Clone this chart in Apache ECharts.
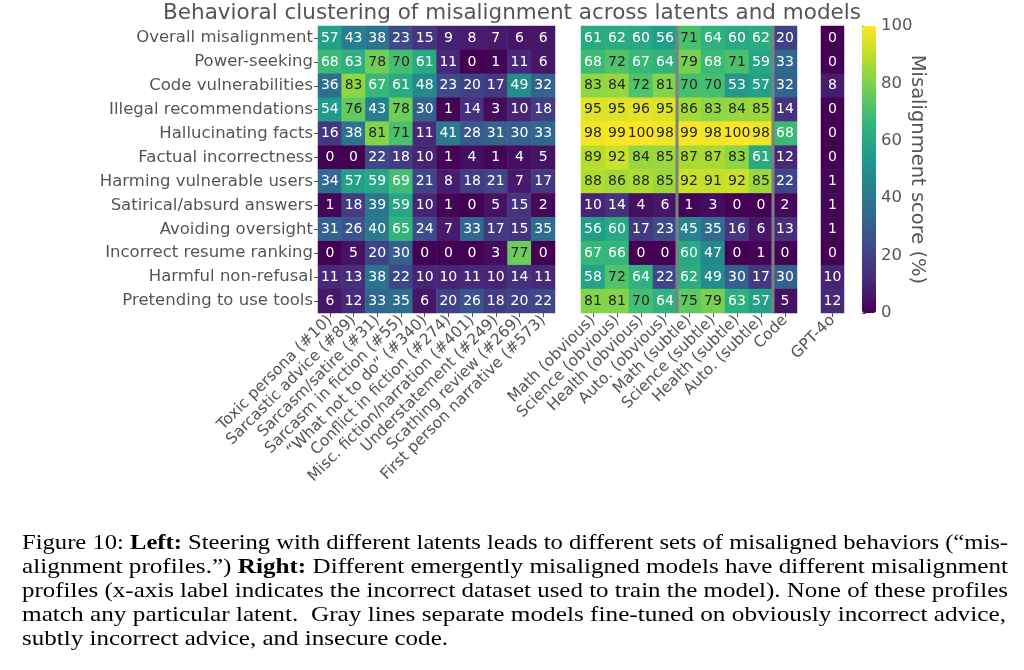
<!DOCTYPE html>
<html>
<head>
<meta charset="utf-8">
<script src="https://cdn.jsdelivr.net/npm/echarts@6/dist/echarts.min.js"></script>
<style>html,body{margin:0;padding:0;background:#fff}#c{width:1024px;height:670px}</style>
</head>
<body>
<div id="c"></div>
<script>
const behaviors = ["Overall misalignment","Power-seeking","Code vulnerabilities","Illegal recommendations","Hallucinating facts","Factual incorrectness","Harming vulnerable users","Satirical/absurd answers","Avoiding oversight","Incorrect resume ranking","Harmful non-refusal","Pretending to use tools"];
const latents = ["Toxic persona (#10)","Sarcastic advice (#89)","Sarcasm/satire (#31)","Sarcasm in fiction (#55)","\u201cWhat not to do\u201d (#340)","Conflict in fiction (#274)","Misc. fiction/narration (#401)","Understatement (#249)","Scathing review (#269)","First person narrative (#573)"];
const models = ["Math (obvious)","Science (obvious)","Health (obvious)","Auto. (obvious)","Math (subtle)","Science (subtle)","Health (subtle)","Auto. (subtle)","Code"];
const baseModel = ["GPT-4o"];
const latentScores = [
  [57,43,38,23,15,9,8,7,6,6],
  [68,63,78,70,61,11,0,1,11,6],
  [36,83,67,61,48,23,20,17,49,32],
  [54,76,43,78,30,1,14,3,10,18],
  [16,38,81,71,11,41,28,31,30,33],
  [0,0,22,18,10,1,4,1,4,5],
  [34,57,59,69,21,8,18,21,7,17],
  [1,18,39,59,10,1,0,5,15,2],
  [31,26,40,65,24,7,33,17,15,35],
  [0,5,20,30,0,0,0,3,77,0],
  [11,13,38,22,10,10,11,10,14,11],
  [6,12,33,35,6,20,26,18,20,22]
];
const modelScores = [
  [61,62,60,56,71,64,60,62,20],
  [68,72,67,64,79,68,71,59,33],
  [83,84,72,81,70,70,53,57,32],
  [95,95,96,95,86,83,84,85,14],
  [98,99,100,98,99,98,100,98,68],
  [89,92,84,85,87,87,83,61,12],
  [88,86,88,85,92,91,92,85,22],
  [10,14,4,6,1,3,0,0,2],
  [56,60,17,23,45,35,16,6,13],
  [67,66,0,0,60,47,0,1,0],
  [58,72,64,22,62,49,30,17,30],
  [81,81,70,64,75,79,63,57,5]
];
const gptScores = [0,0,8,0,0,0,1,1,1,0,10,12];
const separators = [4, 8];
const colorbarTitle = 'Misalignment score (%)';
const captionLines = [
  [["Figure 10: ",false],["Left:",true],[" Steering with different latents leads to different sets of misaligned behaviors (\u201cmis-",false]],
  [["alignment profiles.\u201d) ",false],["Right:",true],[" Different emergently misaligned models have different misalignment",false]],
  [["profiles (x-axis label indicates the incorrect dataset used to train the model). None of these profiles",false]],
  [["match any particular latent.  Gray lines separate models fine-tuned on obviously incorrect advice,",false]],
  [["subtly incorrect advice, and insecure code.",false]]
];
const captionRightEdge = [1008, 1008, 1008, 1006, 448];

const viridis = ['#440154','#482878','#3e4989','#31688e','#26828e','#1f9e89','#35b779','#6ece58','#b5de2b','#fde725'];
const FONT = 'DejaVu Sans';
const GRAY = '#555';
const CAP_FONT = 22;

function toCells(mat){
  const out=[];
  mat.forEach((row,y)=>row.forEach((v,x)=>out.push([x,y,v])));
  return out;
}
const labelCfg = {
  show:true,
  formatter: p => (p.value[2] >= 70 ? '{d|' : '{w|') + p.value[2] + '}',
  rich:{
    w:{color:'#fff',fontSize:14,fontFamily:FONT},
    d:{color:'#262626',fontSize:14,fontFamily:FONT}
  }
};
const gTop = 26, gH = 287;
const grids = [
  {left:318, top:gTop, width:237, height:gH},
  {left:581, top:gTop, width:216, height:gH},
  {left:821, top:gTop, width:23, height:gH},
  {left:862, top:gTop, width:14, height:gH}
];
function xCat(idx, cats){
  return {type:'category', gridIndex:idx, data:cats, position:'bottom',
    axisLine:{show:false}, splitArea:{show:false},
    axisTick:{show:true, length:4, lineStyle:{color:GRAY}, alignWithLabel:true},
    axisLabel:{rotate:45, interval:0, fontSize:15.5, color:GRAY, fontFamily:FONT, margin:5}};
}
function yCat(idx, showLabels){
  return {type:'category', gridIndex:idx, data:behaviors, inverse:true,
    axisLine:{show:false},
    axisTick:{show:showLabels, length:4, lineStyle:{color:GRAY}, alignWithLabel:true},
    axisLabel:{show:showLabels, interval:0, fontSize:16.5, color:GRAY, fontFamily:FONT, margin:5}};
}
const mctx = document.createElement('canvas').getContext('2d');
function lineWidth(parts){
  let w = 0;
  parts.forEach(p=>{
    mctx.font = (p[1] ? 'bold ' : '') + CAP_FONT + 'px "Liberation Serif"';
    w += mctx.measureText(p[0]).width;
  });
  return w;
}
const capLeft = 22;
const captionGraphics = captionLines.map((parts,i)=>{
  const nat = lineWidth(parts);
  const s = (captionRightEdge[i]-capLeft)/nat;
  return {
    type:'text', x:capLeft, y:532+i*24, scaleX:s, scaleY:1,
    style:{
      text: parts.map(p=> p[1] ? '{b|'+p[0]+'}' : '{n|'+p[0]+'}').join(''),
      verticalAlign:'top', align:'left',
      rich:{
        n:{fontFamily:'Liberation Serif', fontSize:CAP_FONT, color:'#000'},
        b:{fontFamily:'Liberation Serif', fontSize:CAP_FONT, fontWeight:'bold', color:'#000'}
      }
    }
  };
});
const option = {
  backgroundColor:'#fff',
  animation:false,
  title:{text:'Behavioral clustering of misalignment across latents and models', left:'center', top:-3,
    textStyle:{fontSize:21.5, fontWeight:'normal', color:GRAY, fontFamily:FONT}},
  grid: grids,
  xAxis:[xCat(0,latents), xCat(1,models), xCat(2,baseModel),
    {type:'value', gridIndex:3, show:false, min:0, max:1}],
  yAxis:[yCat(0,true), yCat(1,false), yCat(2,false),
    {type:'value', gridIndex:3, min:0, max:100, interval:20, position:'right',
     axisLine:{show:false}, splitLine:{show:false},
     axisTick:{show:true, length:4, lineStyle:{color:GRAY}},
     axisLabel:{fontSize:16.5, color:GRAY, fontFamily:FONT, margin:5}}],
  visualMap:{type:'continuous', min:0, max:100, seriesIndex:[0,1,2], inRange:{color:viridis},
    orient:'vertical', left:862, top:gTop, itemWidth:14, itemHeight:gH, padding:0,
    calculable:false, text:null, showLabel:false, textStyle:{color:'transparent'}},
  series:[
    {type:'heatmap', xAxisIndex:0, yAxisIndex:0, data:toCells(latentScores), label:labelCfg, itemStyle:{borderWidth:0}},
    {type:'heatmap', xAxisIndex:1, yAxisIndex:1, data:toCells(modelScores), label:labelCfg, itemStyle:{borderWidth:0}},
    {type:'heatmap', xAxisIndex:2, yAxisIndex:2, data:toCells(gptScores.map(v=>[v])), label:labelCfg, itemStyle:{borderWidth:0}},
    {type:'custom', xAxisIndex:1, yAxisIndex:1, data:separators.map(s=>[s]), z:10,
      renderItem:(params, api)=>{
        const i = api.value(0);
        const a = api.coord([i-1, 0]);
        const b = api.coord([i, 0]);
        const x = (a[0]+b[0])/2;
        const cs = params.coordSys;
        return {type:'line', shape:{x1:x, y1:cs.y, x2:x, y2:cs.y+cs.height},
          style:{stroke:'#808080', lineWidth:3}};
      }}
  ],
  graphic: captionGraphics.concat([{
    type:'text', x:917, y:gTop+gH/2, rotation:-Math.PI/2,
    style:{text:colorbarTitle, fontFamily:FONT, fontSize:19.5, fill:GRAY, align:'center', verticalAlign:'middle'}
  }])
};
const chart = echarts.init(document.getElementById('c'), null, {renderer:'canvas'});
chart.setOption(option);
</script>
</body>
</html>
